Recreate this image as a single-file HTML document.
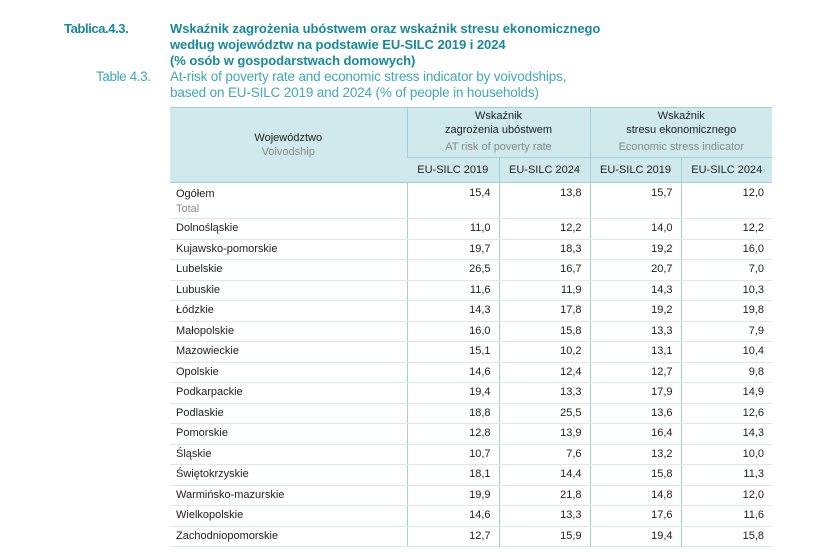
<!DOCTYPE html>
<html><head><meta charset="utf-8"><style>
body{margin:0;width:835px;height:559px;background:#fff;font-family:"Liberation Sans",sans-serif;position:relative;overflow:hidden}
.t{position:absolute;font-size:13px;line-height:16px;white-space:nowrap;letter-spacing:-0.05px}
.b{font-weight:bold;color:#17899a}
.e{color:#3fa9b6;font-size:13.5px;letter-spacing:-0.15px}
table{position:absolute;left:170px;top:107px;width:602px;border-collapse:collapse;font-size:11px;color:#222}
td{padding:0 6px;border-left:1px solid #9fd0d6;}
td:first-child{border-left:none}
thead td{background:#cfe9ec;text-align:center;border-bottom:1.5px solid #9fd0d6;line-height:14px}
tbody td{text-align:right;height:19.5px;padding-top:0;padding-bottom:0;border-bottom:1px solid #d4ecef;padding-right:8px;line-height:13px}
tbody td:first-child{text-align:left;padding-left:6px}
.g{color:#888}
</style></head><body>
<div class="t b" style="left:64px;top:21px;letter-spacing:-0.4px">Tablica.4.3.</div>
<div class="t b" style="left:170px;top:21px">Wskaźnik zagrożenia ubóstwem oraz wskaźnik stresu ekonomicznego<br>według województw na podstawie EU-SILC 2019 i 2024<br>(% osób w gospodarstwach domowych)</div>
<div class="t e" style="left:96px;top:69px;letter-spacing:-0.4px">Table 4.3.</div>
<div class="t e" style="left:170px;top:69px">At-risk of poverty rate and economic stress indicator by voivodships,<br>based on EU-SILC 2019 and 2024 (% of people in households)</div>
<table>
<colgroup><col style="width:237px"><col style="width:92px"><col style="width:91px"><col style="width:91px"><col style="width:91px"></colgroup>
<thead>
<tr style="height:50px;border-top:1.5px solid #9fd0d6"><td rowspan="2">Województwo<br><span class="g">Voivodship</span></td><td colspan="2">Wskaźnik<br>zagrożenia ubóstwem<br><span class="g" style="line-height:20px">AT risk of poverty rate</span></td><td colspan="2">Wskaźnik<br>stresu ekonomicznego<br><span class="g" style="line-height:20px">Economic stress indicator</span></td></tr>
<tr style="height:25px"><td>EU-SILC 2019</td><td>EU-SILC 2024</td><td>EU-SILC 2019</td><td>EU-SILC 2024</td></tr>
</thead>
<tbody>
<tr><td style="height:31px;vertical-align:top;padding-top:4px;line-height:15px">Ogółem<br><span class="g">Total</span></td><td style="height:31px;vertical-align:top;padding-top:4px">15,4</td><td style="height:31px;vertical-align:top;padding-top:4px">13,8</td><td style="height:31px;vertical-align:top;padding-top:4px">15,7</td><td style="height:31px;vertical-align:top;padding-top:4px">12,0</td></tr>
<tr><td>Dolnośląskie</td><td>11,0</td><td>12,2</td><td>14,0</td><td>12,2</td></tr>
<tr><td>Kujawsko-pomorskie</td><td>19,7</td><td>18,3</td><td>19,2</td><td>16,0</td></tr>
<tr><td>Lubelskie</td><td>26,5</td><td>16,7</td><td>20,7</td><td>7,0</td></tr>
<tr><td>Lubuskie</td><td>11,6</td><td>11,9</td><td>14,3</td><td>10,3</td></tr>
<tr><td>Łódzkie</td><td>14,3</td><td>17,8</td><td>19,2</td><td>19,8</td></tr>
<tr><td>Małopolskie</td><td>16,0</td><td>15,8</td><td>13,3</td><td>7,9</td></tr>
<tr><td>Mazowieckie</td><td>15,1</td><td>10,2</td><td>13,1</td><td>10,4</td></tr>
<tr><td>Opolskie</td><td>14,6</td><td>12,4</td><td>12,7</td><td>9,8</td></tr>
<tr><td>Podkarpackie</td><td>19,4</td><td>13,3</td><td>17,9</td><td>14,9</td></tr>
<tr><td>Podlaskie</td><td>18,8</td><td>25,5</td><td>13,6</td><td>12,6</td></tr>
<tr><td>Pomorskie</td><td>12,8</td><td>13,9</td><td>16,4</td><td>14,3</td></tr>
<tr><td>Śląskie</td><td>10,7</td><td>7,6</td><td>13,2</td><td>10,0</td></tr>
<tr><td>Świętokrzyskie</td><td>18,1</td><td>14,4</td><td>15,8</td><td>11,3</td></tr>
<tr><td>Warmińsko-mazurskie</td><td>19,9</td><td>21,8</td><td>14,8</td><td>12,0</td></tr>
<tr><td>Wielkopolskie</td><td>14,6</td><td>13,3</td><td>17,6</td><td>11,6</td></tr>
<tr><td>Zachodniopomorskie</td><td>12,7</td><td>15,9</td><td>19,4</td><td>15,8</td></tr>
</tbody></table>
</body></html>
